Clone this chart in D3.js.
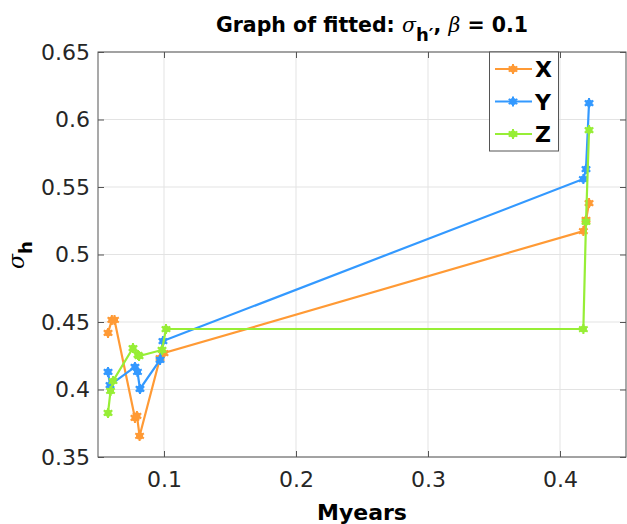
<!DOCTYPE html>
<html>
<head>
<meta charset="utf-8">
<script src="https://cdn.jsdelivr.net/npm/d3@7"></script>
<style>
  body { margin: 0; background: #fff; }
  text { font-family: "DejaVu Sans", sans-serif; }
</style>
</head>
<body>
<div id="chart"></div>
<script>
// data
const seriesNames = ["X", "Y", "Z"];
const colors = ["#ff9a35", "#3399ff", "#97ee36"];

const xX = [0.0576, 0.0605, 0.0625, 0.078, 0.0795, 0.0815, 0.097, 0.100, 0.4177, 0.4197, 0.422];
const yX = [0.4419, 0.4515, 0.4515, 0.3789, 0.3804, 0.3656, 0.4233, 0.427, 0.5174, 0.5256, 0.5381];

const xY = [0.0576, 0.0591, 0.078, 0.0799, 0.0818, 0.097, 0.0992, 0.4177, 0.4197, 0.422];
const yY = [0.413, 0.4033, 0.4167, 0.413, 0.4004, 0.4219, 0.4359, 0.5559, 0.5633, 0.6122];

const xZ = [0.0576, 0.0595, 0.0614, 0.0765, 0.0803, 0.0811, 0.0985, 0.1015, 0.4177, 0.4197, 0.422];
const yZ = [0.3826, 0.3989, 0.4063, 0.4307, 0.4256, 0.4248, 0.4293, 0.4448, 0.4448, 0.5241, 0.5922];

const xTicks = [0.1, 0.2, 0.3, 0.4];
const yTicks = [0.35, 0.4, 0.45, 0.5, 0.55, 0.6, 0.65];

const width = 627;
const height = 524;
const plotL = 98, plotR = 626, plotT = 52, plotB = 457;

const xScale = d3.scaleLinear().domain([0.05, 0.45]).range([plotL, plotR]);
const yScale = d3.scaleLinear().domain([0.35, 0.65]).range([plotB, plotT]);

const svg = d3
  .select("#chart")
  .append("svg")
  .attr("width", width)
  .attr("height", height);

// grid
svg.append("g")
  .selectAll("line")
  .data(xTicks)
  .enter()
  .append("line")
  .attr("x1", (d) => xScale(d))
  .attr("x2", (d) => xScale(d))
  .attr("y1", plotT)
  .attr("y2", plotB)
  .attr("stroke", "#e3e3e3");

svg.append("g")
  .selectAll("line")
  .data(yTicks)
  .enter()
  .append("line")
  .attr("x1", plotL)
  .attr("x2", plotR)
  .attr("y1", (d) => yScale(d))
  .attr("y2", (d) => yScale(d))
  .attr("stroke", "#e3e3e3");

// axes (ticks inward, MATLAB style)
const xAxis = d3.axisBottom(xScale).tickValues(xTicks).tickSize(-6).tickPadding(14)
  .tickFormat((d) => String(d));
const yAxis = d3.axisLeft(yScale).tickValues(yTicks).tickSize(-6).tickPadding(8)
  .tickFormat((d) => String(d));

function styleAxis(g) {
  g.select(".domain").remove();
  g.selectAll("line").attr("stroke", "#555");
  g.selectAll("text")
    .attr("fill", "#262626")
    .style("font-size", "22px")
    .style("font-family", "DejaVu Sans, sans-serif");
}

svg.append("g")
  .attr("transform", "translate(0," + plotB + ")")
  .call(xAxis)
  .call(styleAxis);

svg.append("g")
  .attr("transform", "translate(" + plotL + ",0)")
  .call(yAxis)
  .call(styleAxis);

// top / right ticks
svg.append("g")
  .attr("transform", "translate(0," + plotT + ")")
  .call(d3.axisTop(xScale).tickValues(xTicks).tickSize(-6).tickFormat(""))
  .call(styleAxis);
svg.append("g")
  .attr("transform", "translate(" + plotR + ",0)")
  .call(d3.axisRight(yScale).tickValues(yTicks).tickSize(-6).tickFormat(""))
  .call(styleAxis);

// box
svg.append("rect")
  .attr("x", plotL)
  .attr("y", plotT)
  .attr("width", plotR - plotL)
  .attr("height", plotB - plotT)
  .attr("fill", "none")
  .attr("stroke", "#555")
  .attr("stroke-width", 1);

// series
const allX = [xX, xY, xZ];
const allY = [yX, yY, yZ];

const line = d3.line()
  .x((d) => xScale(d[0]))
  .y((d) => yScale(d[1]));

const star = d3.symbol().type(d3.symbolAsterisk).size(70);

function drawMarker(g, cx, cy, color) {
  g.append("path")
    .attr("d", star)
    .attr("transform", "translate(" + cx + "," + cy + ")")
    .attr("stroke", color)
    .attr("stroke-width", 2)
    .attr("fill", "none");
  g.append("circle")
    .attr("cx", cx)
    .attr("cy", cy)
    .attr("r", 3.6)
    .attr("fill", color);
}

seriesNames.forEach((name, i) => {
  const pts = allX[i].map((x, j) => [x, allY[i][j]]);
  const g = svg.append("g");
  g.append("path")
    .datum(pts)
    .attr("d", line)
    .attr("fill", "none")
    .attr("stroke", colors[i])
    .attr("stroke-width", 2.2);
  pts.forEach((p) => drawMarker(g, xScale(p[0]), yScale(p[1]), colors[i]));
});

// legend
const lg = svg.append("g");
lg.append("rect")
  .attr("x", 489.5)
  .attr("y", 52)
  .attr("width", 69)
  .attr("height", 99)
  .attr("fill", "#fff")
  .attr("stroke", "#555");

seriesNames.forEach((name, i) => {
  const ly = 69 + i * 32.5;
  lg.append("line")
    .attr("x1", 495)
    .attr("x2", 532)
    .attr("y1", ly)
    .attr("y2", ly)
    .attr("stroke", colors[i])
    .attr("stroke-width", 2.2);
  drawMarker(lg, 513, ly, colors[i]);
  lg.append("text")
    .attr("x", 535)
    .attr("y", ly + 8)
    .attr("font-weight", "bold")
    .style("font-size", "22px")
    .text(name);
});

// title
const title = svg.append("text")
  .attr("x", 372)
  .attr("y", 32)
  .attr("text-anchor", "middle")
  .attr("font-weight", "bold")
  .style("font-size", "20.5px");
title.append("tspan").text("Graph of fitted: ");
title.append("tspan")
  .style("font-family", "DejaVu Serif, serif")
  .attr("font-style", "italic")
  .attr("font-weight", "normal")
  .text("σ");
title.append("tspan").attr("dy", 9).style("font-size", "18px").text("h′");
title.append("tspan").attr("dy", -9).text(", ");
title.append("tspan")
  .style("font-family", "DejaVu Serif, serif")
  .attr("font-style", "italic")
  .attr("font-weight", "normal")
  .text("β");
title.append("tspan").text(" = 0.1");

// x label
svg.append("text")
  .attr("x", 362)
  .attr("y", 520)
  .attr("text-anchor", "middle")
  .attr("font-weight", "bold")
  .style("font-size", "22px")
  .text("Myears");

// y label
const yl = svg.append("text")
  .attr("transform", "translate(24,255) rotate(-90)")
  .attr("text-anchor", "middle")
  .style("font-size", "22px");
yl.append("tspan")
  .style("font-family", "DejaVu Serif, serif")
  .attr("font-style", "italic")
  .text("σ");
yl.append("tspan")
  .attr("dy", 8)
  .attr("font-weight", "bold")
  .style("font-size", "18px")
  .text("h");
</script>
</body>
</html>
